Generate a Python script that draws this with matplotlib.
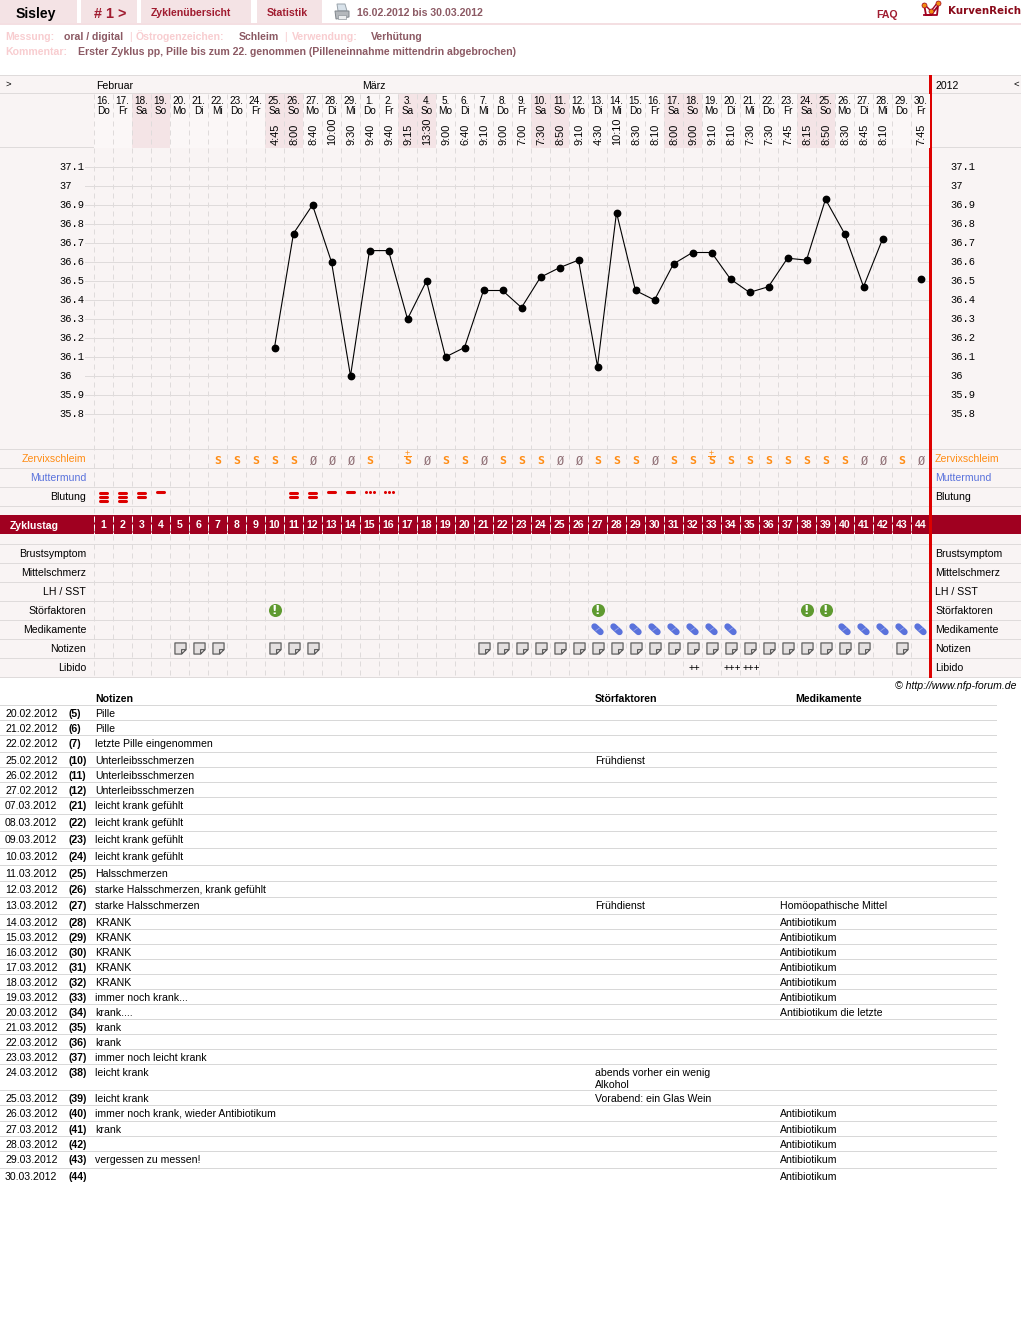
import matplotlib
matplotlib.use('Agg')
import matplotlib.pyplot as plt
from matplotlib.patches import Rectangle, Polygon
from matplotlib.path import Path
from matplotlib.transforms import blended_transform_factory

# chart data
cycle_days = list(range(1, 45))
date_labels = ['16.', '17.', '18.', '19.', '20.', '21.', '22.', '23.', '24.', '25.', '26.',
               '27.', '28.', '29.', '1.', '2.', '3.', '4.', '5.', '6.', '7.', '8.', '9.',
               '10.', '11.', '12.', '13.', '14.', '15.', '16.', '17.', '18.', '19.', '20.',
               '21.', '22.', '23.', '24.', '25.', '26.', '27.', '28.', '29.', '30.']
weekdays = ['Do', 'Fr', 'Sa', 'So', 'Mo', 'Di', 'Mi', 'Do', 'Fr', 'Sa', 'So',
            'Mo', 'Di', 'Mi', 'Do', 'Fr', 'Sa', 'So', 'Mo', 'Di', 'Mi', 'Do', 'Fr',
            'Sa', 'So', 'Mo', 'Di', 'Mi', 'Do', 'Fr', 'Sa', 'So', 'Mo', 'Di',
            'Mi', 'Do', 'Fr', 'Sa', 'So', 'Mo', 'Di', 'Mi', 'Do', 'Fr']
times = ['', '', '', '', '', '', '', '', '', '4:45', '8:00',
         '8:40', '10:00', '9:30', '9:40', '9:40', '9:15', '13:30', '9:00', '6:40', '9:10', '9:00', '7:00',
         '7:30', '8:50', '9:10', '4:30', '10:10', '8:30', '8:10', '8:00', '9:00', '9:10', '8:10',
         '7:30', '7:30', '7:45', '8:15', '8:50', '8:30', '8:45', '8:10', '', '7:45']

curve_days = [10, 11, 12, 13, 14, 15, 16, 17, 18, 19, 20, 21, 22, 23, 24, 25, 26, 27,
              28, 29, 30, 31, 32, 33, 34, 35, 36, 37, 38, 39, 40, 41, 42]
curve_temps = [36.15, 36.75, 36.9, 36.6, 36.0, 36.66, 36.66, 36.3, 36.5, 36.1, 36.15, 36.45,
               36.45, 36.36, 36.52, 36.57, 36.61, 36.05, 36.86, 36.45, 36.4, 36.59, 36.65,
               36.65, 36.51, 36.44, 36.47, 36.62, 36.61, 36.93, 36.75, 36.47, 36.72]
lone_days = [44]
lone_temps = [36.51]
temp_ticks = [37.1, 37.0, 36.9, 36.8, 36.7, 36.6, 36.5, 36.4, 36.3, 36.2, 36.1, 36.0, 35.9, 35.8]
temp_labels = ['37.1', '37', '36.9', '36.8', '36.7', '36.6', '36.5', '36.4', '36.3', '36.2',
               '36.1', '36', '35.9', '35.8']

mucus_s = [7, 8, 9, 10, 11, 15, 17, 19, 20, 22, 23, 24, 27, 28, 29, 31, 32, 33, 34, 35, 36, 37, 38, 39, 40, 43]
mucus_dry = [12, 13, 14, 18, 21, 25, 26, 30, 41, 42, 44]
mucus_plus = [17, 33]
bleed_heavy = [1, 2]
bleed_medium = [3, 11, 12]
bleed_light = [4, 13, 14]
bleed_spot = [15, 16]
disturb_days = [10, 27, 38, 39]
med_days = [27, 28, 29, 30, 31, 32, 33, 34, 40, 41, 42, 43, 44]
note_days = [5, 6, 7, 10, 11, 12, 21, 22, 23, 24, 25, 26, 27, 28, 29, 30, 31, 32, 33, 34,
             35, 36, 37, 38, 39, 40, 41, 43]
libido_days = [32, 34, 35]
libido_marks = ['++', '+++', '+++']

upper_rows = ['Zervixschleim', 'Muttermund', 'Blutung']
lower_rows = ['Brustsymptom', 'Mittelschmerz', 'LH / SST', 'Störfaktoren', 'Medikamente', 'Notizen', 'Libido']

table_dates = ['20.02.2012', '21.02.2012', '22.02.2012', '25.02.2012', '26.02.2012', '27.02.2012',
               '07.03.2012', '08.03.2012', '09.03.2012', '10.03.2012', '11.03.2012', '12.03.2012',
               '13.03.2012', '14.03.2012', '15.03.2012', '16.03.2012', '17.03.2012', '18.03.2012',
               '19.03.2012', '20.03.2012', '21.03.2012', '22.03.2012', '23.03.2012', '24.03.2012',
               '25.03.2012', '26.03.2012', '27.03.2012', '28.03.2012', '29.03.2012', '30.03.2012']
table_days = [5, 6, 7, 10, 11, 12, 21, 22, 23, 24, 25, 26, 27, 28, 29, 30, 31, 32, 33, 34, 35,
              36, 37, 38, 39, 40, 41, 42, 43, 44]
table_notes = ['Pille', 'Pille', 'letzte Pille eingenommen', 'Unterleibsschmerzen',
               'Unterleibsschmerzen', 'Unterleibsschmerzen', 'leicht krank gefühlt',
               'leicht krank gefühlt', 'leicht krank gefühlt', 'leicht krank gefühlt',
               'Halsschmerzen', 'starke Halsschmerzen, krank gefühlt', 'starke Halsschmerzen',
               'KRANK', 'KRANK', 'KRANK', 'KRANK', 'KRANK', 'immer noch krank...', 'krank....',
               'krank', 'krank', 'immer noch leicht krank', 'leicht krank', 'leicht krank',
               'immer noch krank, wieder Antibiotikum', 'krank', '', 'vergessen zu messen!', '']
table_disturb = {10: ['Frühdienst'], 27: ['Frühdienst'], 38: ['abends vorher ein wenig', 'Alkohol'],
                 39: ['Vorabend: ein Glas Wein']}
table_meds = {27: 'Homöopathische Mittel', 28: 'Antibiotikum', 29: 'Antibiotikum', 30: 'Antibiotikum',
              31: 'Antibiotikum', 32: 'Antibiotikum', 33: 'Antibiotikum', 34: 'Antibiotikum die letzte',
              40: 'Antibiotikum', 41: 'Antibiotikum', 42: 'Antibiotikum', 43: 'Antibiotikum', 44: 'Antibiotikum'}

# layout in pixels, lines are given by their pixel row
W, H = 1021, 1331
CHART_L, CHART_R = 94, 930
CHART_T, CHART_B = 75, 677
TEMP_T, TEMP_B = 147, 449
table_lines = [705, 720, 735, 752, 767, 782, 797, 814, 831, 848, 865,
               881, 897, 914, 929, 944, 959, 974, 989, 1004, 1019, 1034,
               1049, 1064, 1090, 1105, 1121, 1136, 1151, 1168]
upper_lines = [449, 468, 487, 506]
lower_lines = [544, 563, 582, 601, 620, 639, 658, 677]

PANEL = '#f9f4f4'
HEADER_BG = '#fbf7f7'
WEEKEND = '#f4e4e6'
GRID = '#dfdbdb'
TAB = '#f4e3e5'
DARK = '#a00020'
RED = '#dd0000'
WINE = '#a01c30'
MUTED = '#8c5a64'
PINK = '#f8cdd0'
ORANGE = '#ff8c14'
BLUE = '#5a72dc'
GREEN = '#5f9a30'
SANS = 'Liberation Sans'
LW = 0.72


def px(size):
    """ Font size given in pixels, returned in points at dpi 100.
    """
    return size * 0.72


def page_text(x, y, s, size=10.5, color='black', weight='normal', ha='left', va='center', **kw):
    # center on the x-height box, so umlauts do not push the baseline
    if va == 'center':
        y, va = y + size * 0.36, 'baseline'
    page.text(x, y, s, fontsize=px(size), color=color, fontweight=weight, ha=ha, va=va,
              family=kw.pop('family', SANS), **kw)


plt.rcParams['font.family'] = SANS
fig = plt.figure(figsize=(W / 100, H / 100), dpi=100, facecolor='white')

page = fig.add_axes([0, 0, 1, 1])
page.set_xlim(0, W)
page.set_ylim(H, 0)
page.axis('off')

# rows axes: x is cycle day, y still in pixels
rows = fig.add_axes([CHART_L / W, 1 - CHART_B / H, (CHART_R - CHART_L) / W, (CHART_B - CHART_T) / H])
rows.set_xlim(0.5, 44.5)
rows.set_ylim(CHART_B, CHART_T)
rows.axis('off')
rows.patch.set_alpha(0)

# temperature axes
temp = fig.add_axes([CHART_L / W, 1 - TEMP_B / H, (CHART_R - CHART_L) / W, (TEMP_B - TEMP_T) / H])
temp.set_xlim(0.5, 44.5)
temp.set_ylim(37.1 - (TEMP_B - 167) / 190, 37.1 + (167 - TEMP_T) / 190)
temp.axis('off')
temp.patch.set_alpha(0)

# top navigation
for x0, x1 in [(0, 77), (81, 137), (141, 251), (257, 322)]:
    page.add_patch(Rectangle((x0, 0), x1 - x0, 23, fc=TAB, ec='none'))
page.add_patch(Rectangle((0, 23), W, 2, fc='#f4dfe2', ec='none'))
page_text(16, 13, 'Sisley', 14, weight='bold')
page_text(94, 13, '# 1 >', 14.4, WINE, 'bold')
page_text(151, 12.5, 'Zyklenübersicht', 10.5, WINE, 'bold')
page_text(267, 12.5, 'Statistik', 10.5, WINE, 'bold')
page_text(357, 12.5, '16.02.2012 bis 30.03.2012', 10.5, MUTED, 'bold')
page_text(876, 14, 'FAQ', 10.5, WINE, 'bold')
page_text(948, 10.5, 'KurvenReich', 10.2, '#8a0a1a', 'bold', family='DejaVu Sans')

# printer icon
page.add_patch(Polygon([(337, 4), (345, 4), (347, 11), (338, 11)], fc='#d8e2ea', ec='#9aa4ac', lw=0.7))
page.add_patch(Polygon([(335, 11), (349, 11), (349, 17), (336, 19)], fc='#b4b8bc', ec='#80868c', lw=0.7))
page.add_patch(Rectangle((338, 15), 8, 3.5, fc='#eceeef', ec='#90969c', lw=0.5))

# crown logo
page.plot([924, 926, 931, 938, 937, 924], [4, 15, 15, 6, 15, 15], color='#a00020', lw=1.3)
page.plot([924, 931, 938], [4, 11, 2], color='#a00020', lw=1.0)
page.plot([924, 931, 938], [5, 11, 3], ls='none', marker='o', ms=3.6, mfc='#f08c10', mec='#a00020', mew=0.5)

# meta lines
page_text(5, 36, 'Messung:', 10.5, PINK, 'bold')
page_text(64, 36, 'oral / digital', 10.5, MUTED, 'bold')
page_text(129, 36, '|', 10.5, PINK)
page_text(136, 36, 'Östrogenzeichen:', 10.5, PINK, 'bold')
page_text(239, 36, 'Schleim', 10.5, MUTED, 'bold')
page_text(284, 36, '|', 10.5, PINK)
page_text(292, 36, 'Verwendung:', 10.5, PINK, 'bold')
page_text(371, 36, 'Verhütung', 10.5, MUTED, 'bold')
page_text(5, 51, 'Kommentar:', 10.5, PINK, 'bold')
page_text(78, 51, 'Erster Zyklus pp, Pille bis zum 22. genommen (Pilleneinnahme mittendrin abgebrochen)',
          10.5, MUTED, 'bold')

# chart panel and header cells
page.add_patch(Rectangle((0, CHART_T), W, CHART_B - CHART_T + 1, fc=PANEL, ec='none', zorder=0))
for d, day_name in zip(cycle_days, weekdays):
    fill = WEEKEND if day_name in ('Sa', 'So') else HEADER_BG
    rows.add_patch(Rectangle((d - 0.5, 94), 1, 53.5, fc=fill, ec='none', zorder=0))

# horizontal lines across the whole width
for y in [CHART_T, 93, 147] + upper_lines + lower_lines:
    page.plot([0, W], [y, y], color=GRID, lw=LW, zorder=1)

# temperature grid and labels
label_tf = blended_transform_factory(page.transData, temp.transData)
for t, lab in zip(temp_ticks, temp_labels):
    temp.plot([85, 928], [t, t], color=GRID, lw=LW, transform=label_tf, zorder=1, clip_on=False)
    temp.text(59, t, lab, transform=label_tf, family='Liberation Mono', fontsize=px(10.4),
              va='center', ha='left', clip_on=False)
    temp.text(950, t, lab, transform=label_tf, family='Liberation Mono', fontsize=px(10.4),
              va='center', ha='left', clip_on=False)

# day columns
for edge in range(0, 44):
    rows.plot([edge + 0.5, edge + 0.5], [94, 677], color=GRID, lw=LW,
              dashes=(5, 4), zorder=1.5)

# cycle day bar
page.add_patch(Rectangle((0, 515), W, 19, fc=DARK, ec='none', zorder=2))
for edge in range(0, 44):
    rows.plot([edge + 0.5, edge + 0.5], [516, 534], color='white', lw=LW, dashes=(4, 4), zorder=3)
page_text(10, 525, 'Zyklustag', 10.5, 'white', 'bold', zorder=4)
for d in cycle_days:
    rows.text(d, 525, str(d), color='white', fontweight='bold', fontsize=px(10.5), ha='center',
              va='center', zorder=4)

# red divider
page.add_patch(Rectangle((929, CHART_T), 3, CHART_B - CHART_T + 1, fc=RED, ec='none', zorder=5))

# month labels
page_text(96, 85, 'Februar', 10.5)
page_text(362, 85, 'März', 10.5)
page_text(935, 85, '2012', 10.5)
page_text(5, 83, '>', 9.5)
page_text(1013, 83, '<', 9.5)

# date headers
for d, dt, wd, tm in zip(cycle_days, date_labels, weekdays, times):
    rows.text(d, 101, dt, fontsize=px(10), ha='center', va='center')
    rows.text(d, 111, wd, fontsize=px(10), ha='center', va='center')
    if tm:
        rows.text(d + 1 / 19, 145, tm, fontsize=px(11), rotation=90, ha='center', va='bottom')

# row labels on both sides
row_colors = {'Zervixschleim': ORANGE, 'Muttermund': BLUE}
for label, y in zip(upper_rows, upper_lines):
    c = row_colors.get(label, 'black')
    page_text(86, y + 9.5, label, 10.5, c, ha='right')
    page_text(935, y + 9.5, label, 10.5, c, zorder=6)
for label, y in zip(lower_rows, lower_lines):
    page_text(86, y + 9.5, label, 10.5, ha='right')
    page_text(935, y + 9.5, label, 10.5, zorder=6)

# temperature curve
temp.plot(curve_days, curve_temps, color='black', lw=0.8, marker='o', ms=4.6, mfc='black',
          mec='black', zorder=6, clip_on=False)
temp.plot(lone_days, lone_temps, ls='none', marker='o', ms=4.6, color='black', zorder=6)

# cervical mucus
for d in mucus_s:
    rows.text(d, 461, 'S', color=ORANGE, fontweight='bold', fontsize=px(11.5), family='DejaVu Sans Mono',
              ha='center', va='center', zorder=6)
for d in mucus_dry:
    rows.text(d, 461, 'Ø', color='#8f6f75', fontsize=px(12), family='DejaVu Sans Mono',
              ha='center', va='center', zorder=6)
for d in mucus_plus:
    rows.text(d, 453.5, '+', color=ORANGE, fontsize=px(9), ha='center', va='center', zorder=6)
    rows.plot([d - 0.2, d + 0.2], [456, 456], color=ORANGE, lw=LW, zorder=6)

# bleeding, drawn as stacked strokes
BAR = 3.8 / 19
for d in bleed_heavy:
    for y in [492.7, 496.7, 500.7]:
        rows.plot([d - BAR, d + BAR], [y, y], color=RED, lw=2.2, solid_capstyle='round', zorder=6)
for d in bleed_medium:
    for y in [492.7, 496.7]:
        rows.plot([d - BAR, d + BAR], [y, y], color=RED, lw=2.2, solid_capstyle='round', zorder=6)
for d in bleed_light:
    rows.plot([d - BAR, d + BAR], [492, 492], color=RED, lw=2.2, solid_capstyle='round', zorder=6)
for d in bleed_spot:
    rows.plot([d - 4 / 19, d, d + 4 / 19], [492, 492, 492], ls='none', marker='o', ms=2.2, color=RED,
              mew=0, zorder=6)

# disturbances
rows.plot(disturb_days, [610.3] * len(disturb_days), ls='none', marker='o', ms=9.4, color=GREEN,
          mew=0, zorder=6)
for d in disturb_days:
    rows.text(d, 610, '!', color='white', fontweight='bold', fontsize=px(12), family='DejaVu Sans',
              ha='center', va='center', zorder=7)

# medication capsules
for d in med_days:
    rows.plot([d - 3 / 19, d + 3 / 19], [626.5, 632], color=BLUE, lw=4.6, solid_capstyle='round', zorder=6)
    rows.plot([d - 1.5 / 19, d + 2 / 19], [630.5, 628], color='#9aa8ea', lw=0.6, zorder=7)

# note icons as one marker shape
note_icon = Path([(-5, -5), (5, -5), (5, 1), (1, 5), (-5, 5), (-5, -5), (5, 1), (1, 1), (1, 5)],
                 [Path.MOVETO, Path.LINETO, Path.LINETO, Path.LINETO, Path.LINETO, Path.CLOSEPOLY,
                  Path.MOVETO, Path.LINETO, Path.LINETO])
rows.plot(note_days, [648.3] * len(note_days), ls='none',
          marker=Path(note_icon.vertices * [1, -1], note_icon.codes),
          ms=8.0, mfc='#e4e0e0', mec='#5e5e5e', mew=0.9, zorder=6)

# libido
for d, mark in zip(libido_days, libido_marks):
    rows.text(d + 0.1, 668, mark, fontsize=px(10), ha='center', va='center', zorder=6)

# notes table
page_text(1016, 685, '© http://www.nfp-forum.de', 10.5, style='italic', ha='right')
page_text(95, 698.5, 'Notizen', 10.5, weight='bold')
page_text(595, 698.5, 'Störfaktoren', 10.5, weight='bold')
page_text(795, 698.5, 'Medikamente', 10.5, weight='bold')
for y in table_lines:
    page.plot([0, 996], [y, y], color='#d8d8d8', lw=LW)
for y, dt, d, note in zip(table_lines, table_dates, table_days, table_notes):
    base = y + 12
    page_text(5, base, dt, va='baseline')
    page_text(68, base, f'({d})', weight='bold', va='baseline')
    page_text(95, base, note, va='baseline')
    for i, part in enumerate(table_disturb.get(d, [])):
        page_text(595, base + i * 11.5, part, va='baseline')
    if d in table_meds:
        page_text(780, base, table_meds[d], va='baseline')

fig.savefig('out.png', dpi=100)
